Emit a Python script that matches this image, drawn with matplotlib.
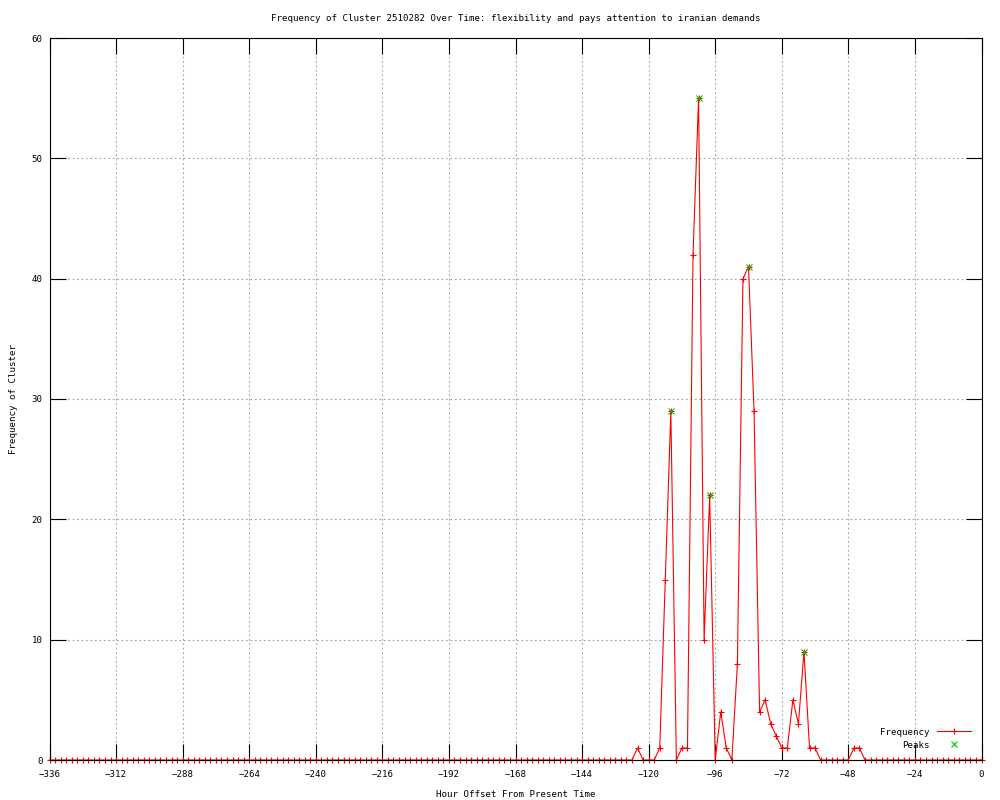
import matplotlib
matplotlib.use("Agg")
import matplotlib.pyplot as plt
import numpy as np

# hourly offsets (every 2 hours) and cluster frequency
hours = np.arange(-336, 1, 2)
nonzero = {
    -124: 1, -116: 1, -114: 15, -112: 29, -108: 1, -106: 1,
    -104: 42, -102: 55, -100: 10, -98: 22, -94: 4, -92: 1,
    -88: 8, -86: 40, -84: 41, -82: 29, -80: 4, -78: 5, -76: 3,
    -74: 2, -72: 1, -70: 1, -68: 5, -66: 3, -64: 9, -62: 1,
    -60: 1, -46: 1, -44: 1,
}
freq = np.array([nonzero.get(h, 0) for h in hours])

peak_hours = [-112, -102, -98, -84, -64]
peak_vals = [29, 55, 22, 41, 9]

title = "Frequency of Cluster 2510282 Over Time: flexibility and pays attention to iranian demands"
xticks = np.arange(-336, 1, 24)
yticks = np.arange(0, 61, 10)

plt.rcParams['font.family'] = ['DejaVu Sans Mono']
fs = 6.6

fig = plt.figure(figsize=(10, 8), dpi=100)
ax = fig.add_axes([0.0495, 0.05, 0.932, 0.9025])

ax.plot(hours, freq, color='red', lw=0.8, marker='+', ms=5, mew=0.8,
        clip_on=False, zorder=3, label='Frequency')
ax.plot(peak_hours, peak_vals, linestyle='none', marker='x', color='#00c000',
        ms=4, mew=0.8, clip_on=False, zorder=4, label='Peaks')

ax.set_xlim(-336, 0)
ax.set_ylim(0, 60)
ax.set_xticks(xticks)
ax.set_yticks(yticks)
ax.tick_params(direction='in', length=11.5, width=0.8, top=True, right=True,
               labelsize=fs, pad=5, colors='black')
ax.tick_params(axis='x', pad=7)
ax.grid(True, color='#a0a0a0', lw=0.8, linestyle=(0, (1.5, 2.5)))
for s in ax.spines.values():
    s.set_linewidth(0.8)
    s.set_zorder(3.5)

ax.set_title(title, fontsize=fs, pad=12)
ax.set_xlabel('Hour Offset From Present Time', fontsize=fs, labelpad=8)
ax.set_ylabel('Frequency of Cluster', fontsize=fs, labelpad=10)

ax.legend(loc='lower right', bbox_to_anchor=(0.9935, 0.008), frameon=False,
          markerfirst=False, fontsize=fs, handlelength=3.7, handletextpad=0.8,
          labelspacing=0.45, borderpad=0, numpoints=1)

fig.savefig('out.png', dpi=100)
